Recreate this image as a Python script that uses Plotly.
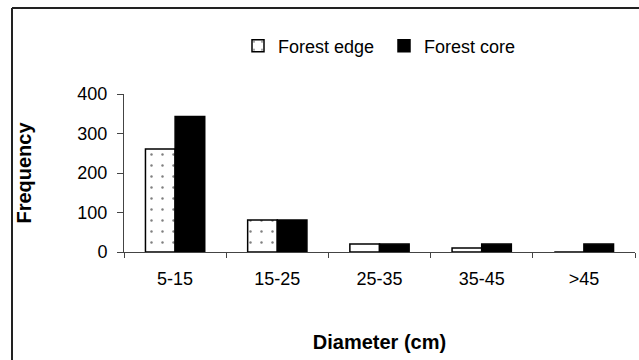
import plotly.graph_objects as go

categories = ["5-15", "15-25", "25-35", "35-45", ">45"]
forest_edge = [261, 81, 20, 10, 0]
forest_core = [343, 81, 20, 20, 20]
y_ticks = [0, 100, 200, 300, 400]

FONT = "Liberation Sans, Arial, sans-serif"

fig = go.Figure()
fig.add_trace(go.Bar(
    name="Forest edge", x=categories, y=forest_edge,
    marker=dict(color="white", line=dict(color="black", width=1.5),
                pattern=dict(shape=".", fgcolor="black", bgcolor="white",
                             size=11, solidity=0.04)),
))
fig.add_trace(go.Bar(
    name="Forest core", x=categories, y=forest_core,
    marker=dict(color="black", line=dict(color="black", width=1.5)),
))

L, R, T, B = 124, 4, 94, 108
W, H = 639, 360
pw, ph = W - L - R, H - T - B

def px_x(x):
    return (x - L) / pw

def px_y(y):
    return 1 - (y - T) / ph

fig.update_layout(
    width=W, height=H,
    margin=dict(l=L, r=R, t=T, b=B),
    paper_bgcolor="white", plot_bgcolor="white",
    barmode="group", bargap=0.42, bargroupgap=0,
    font=dict(family=FONT, size=18, color="black"),
    showlegend=True,
    legend=dict(orientation="h", x=px_x(238), y=px_y(46), xanchor="left",
                yanchor="middle", font=dict(size=18), bgcolor="rgba(0,0,0,0)",
                itemwidth=30, tracegroupgap=0, entrywidth=101, entrywidthmode="pixels"),
    shapes=[
        dict(type="line", xref="paper", yref="paper", x0=px_x(12), x1=px_x(660),
             y0=px_y(8), y1=px_y(8), line=dict(color="#222", width=2)),
        dict(type="line", xref="paper", yref="paper", x0=px_x(12), x1=px_x(12),
             y0=px_y(8), y1=px_y(380), line=dict(color="#222", width=2)),
    ],
)
fig.update_xaxes(
    showline=True, linecolor="#444", linewidth=1,
    ticks="outside", tickson="boundaries", ticklen=5, tickcolor="#444",
    showgrid=False, ticklabelstandoff=10,
    title=dict(text="<b>Diameter (cm)</b>", font=dict(size=20), standoff=47),
    tickfont=dict(size=18),
)
fig.update_yaxes(
    range=[0, 400], tickvals=y_ticks, showline=True, linecolor="#444", linewidth=1,
    ticks="outside", ticklen=6, tickcolor="#444", showgrid=False, zeroline=False,
    ticklabelstandoff=6,
    title=dict(text="<b>Frequency</b>", font=dict(size=20), standoff=40),
    tickfont=dict(size=18),
)

fig.write_html("out.html")
